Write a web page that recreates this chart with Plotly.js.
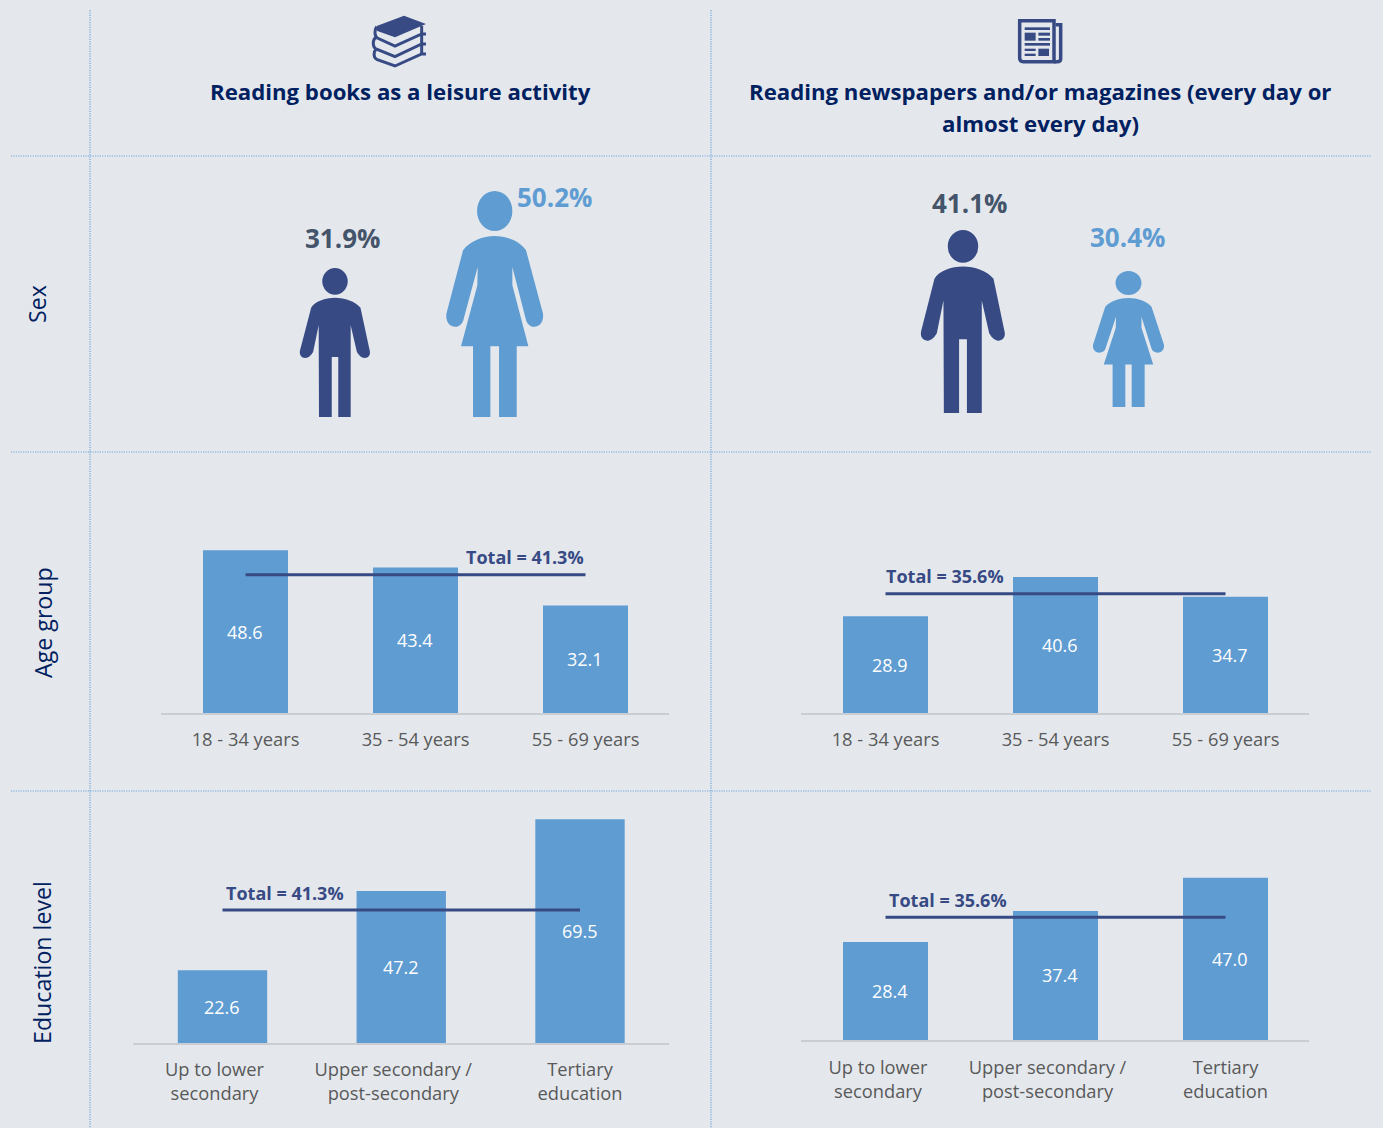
<!DOCTYPE html>
<html><head><meta charset="utf-8">
<script src="https://cdn.plot.ly/plotly-3.0.1.min.js"></script>
<style>html,body{margin:0;padding:0;background:#E4E8ED;overflow:hidden}</style>
</head><body><div id="chart" style="width:1383px;height:1128px"></div>
<script>
const headerBooks = 'Reading books as a leisure activity';
const headerNews = ['Reading newspapers and/or magazines (every day or','almost every day)'];
const rowTitles = ['Sex','Age group','Education level'];
const sexValues = [31.9, 50.2, 41.1, 30.4];
const ageCategories = ['18 - 34 years','35 - 54 years','55 - 69 years'];
const eduCategories = ['Up to lower<br>secondary','Upper secondary /<br>post-secondary','Tertiary<br>education'];
const ageBooks = [48.6, 43.4, 32.1];
const ageNews = [28.9, 40.6, 34.7];
const eduBooks = [22.6, 47.2, 69.5];
const eduNews = [28.4, 37.4, 47.0];
const totalBooks = 41.3;
const totalNews = 35.6;

const W=1383,H=1128;
const BG='#E4E8ED',BAR='#5F9CD2',DARK='#374A84',NAVY='#002060',GREY='#595959',SLATE='#44546A',GRID='#6FA6DA';
const FONT='"Open Sans", sans-serif';
const px=x=>x/W, py=y=>1-y/H;

const panels=[
 {cats:ageCategories,vals:ageBooks,total:totalBooks,x:[161,669],c0:245.5,step:170,base:713,scale:3.35,lx:524.5,ly:557,labelShift:-0.5,tickShift:[0,0,0],standoff:10},
 {cats:ageCategories,vals:ageNews,total:totalNews,x:[801,1309],c0:885.5,step:170,base:713,scale:3.35,lx:945,ly:576,labelShift:4,tickShift:[0,0,0],standoff:10},
 {cats:eduCategories,vals:eduBooks,total:totalBooks,x:[133,669],c0:222.5,step:178.75,base:1043,scale:3.22,lx:285,ly:893,labelShift:-0.5,tickShift:[-8,-8,0],standoff:10},
 {cats:eduCategories,vals:eduNews,total:totalNews,x:[801,1309],c0:885.5,step:170,base:1040,scale:3.45,lx:947.5,ly:900,labelShift:4,tickShift:[-7.5,-8,0],standoff:11}
];
const traces=[], shapes=[], annotations=[];
const layout={width:W,height:H,margin:{l:0,r:0,t:0,b:0},paper_bgcolor:BG,plot_bgcolor:'rgba(0,0,0,0)',showlegend:false,font:{family:FONT,color:GREY}};

panels.forEach((p,i)=>{
  const n=i+1, xa='x'+n, ya='y'+n;
  const top=p.base-80*p.scale;
  const idx=p.vals.map((_,k)=>k);
  traces.push({type:'bar',x:idx,y:p.vals,xaxis:xa,yaxis:ya,marker:{color:BAR,line:{width:0}},hoverinfo:'skip',width:0.5});
  traces.push({type:'scatter',mode:'lines',x:[0,2],y:[p.total,p.total],xaxis:xa,yaxis:ya,line:{color:DARK,width:3},hoverinfo:'skip'});
  layout['xaxis'+n]={domain:[px(p.x[0]),px(p.x[1])],anchor:ya,type:'linear',
    range:[(p.x[0]-p.c0)/p.step,(p.x[1]-p.c0)/p.step],
    tickmode:'array',tickvals:idx.map(k=>k+p.tickShift[k]/p.step),ticktext:p.cats,
    showgrid:false,zeroline:false,showline:true,linecolor:'#CACDD2',linewidth:1.5,ticks:'',
    tickfont:{family:FONT,size:18.3,color:GREY},ticklabelstandoff:p.standoff,automargin:false,tickangle:0};
  layout['yaxis'+n]={domain:[py(p.base),py(top)],anchor:xa,range:[0,80],visible:false,fixedrange:true};
  p.vals.forEach((v,k)=>{
    annotations.push({xref:xa,yref:ya,x:k,y:v/2,xshift:p.labelShift,yshift:0,text:v.toFixed(1),showarrow:false,xanchor:'center',yanchor:'middle',
      font:{family:FONT,size:18,color:'#FFFFFF'}});
  });
  annotations.push({xref:'paper',yref:'paper',x:px(p.lx),y:py(p.ly),text:'<b>Total = '+p.total.toFixed(1)+'%</b>',showarrow:false,
    xanchor:'center',yanchor:'middle',font:{family:FONT,size:18,color:DARK}});
});

// dotted grid
[[90,10,90,1128],[711,10,711,1128],[11,156,1371,156],[11,452,1371,452],[11,791,1371,791]].forEach(l=>{
  shapes.push({type:'line',xref:'paper',yref:'paper',x0:px(l[0]),y0:py(l[1]),x1:px(l[2]),y1:py(l[3]),line:{color:GRID,width:1.2,dash:'1.2px,1.2px'}});
});

// headers and row titles
function header(text,x,y){
  annotations.push({xref:'paper',yref:'paper',x:px(x),y:py(y),text:'<b>'+text+'</b>',showarrow:false,xanchor:'center',yanchor:'middle',font:{family:FONT,size:22.2,color:NAVY}});
}
header(headerBooks,400,91.5);
header(headerNews[0],1040,91.5);
header(headerNews[1],1040,123.5);
[[37.5,304.5],[42.5,622.5],[42,963]].forEach((c,i)=>{
  annotations.push({xref:'paper',yref:'paper',x:px(c[0]),y:py(c[1]),text:rowTitles[i],showarrow:false,textangle:-90,xanchor:'center',yanchor:'middle',font:{family:FONT,size:23.2,color:NAVY}});
});

// pictograms
function pathFrom(cmds,ox,oy,s,sx){
  const fx=sx===undefined?s:sx;
  return cmds.map(c=>{
    const k=c[0], a=c.slice(1), out=[];
    for(let i=0;i<a.length;i+=2){ out.push(px(ox+a[i]*fx)); out.push(py(oy+a[i+1]*s)); }
    return k+out.join(' ');
  }).join(' ');
}
const manBody=[['M',0,89],['C',-30,89,-62,100,-73,119],['L',-107,247],['C',-113,270,-85,283,-67,252],['L',-50,172],['L',-49,447],['L',-10,447],['L',-10,267],['L',10,267],['L',10,447],['L',48,447],['L',48,172],['L',67,252],['C',85,283,113,270,106,247],['L',78,119],['C',62,100,30,89,0,89],['Z']];
const womanBody=[['M',0,135],['C',-35,135,-75,150,-95,178],['L',-145,368],['C',-150,415,-100,420,-93,383],['L',-51,228],['L',-52,283],['L',-101,466],['L',-65,466],['L',-65,678],['L',-13,678],['L',-13,466],['L',13,466],['L',13,678],['L',66,678],['L',66,466],['L',101,466],['L',53,283],['L',53,228],['L',93,383],['C',100,420,150,415,145,368],['L',94,178],['C',75,150,35,135,0,135],['Z']];
function person(kind,cx,feet,h,widen,color){
  const unit=kind==='man'?447:678, s=h/unit, sx=s*widen, oy=feet-h;
  shapes.push({type:'path',xref:'paper',yref:'paper',path:pathFrom(kind==='man'?manBody:womanBody,cx,oy,s,sx),fillcolor:color,line:{width:0}});
  const hc=kind==='man'?{y:40,rx:39,ry:40}:{y:60,rx:53,ry:60};
  shapes.push({type:'circle',xref:'paper',yref:'paper',x0:px(cx-hc.rx*sx),x1:px(cx+hc.rx*sx),y0:py(oy+(hc.y+hc.ry)*s),y1:py(oy+(hc.y-hc.ry)*s),fillcolor:color,line:{width:0}});
}
person('man',335,417,149,0.98,DARK);
person('woman',494.7,417,226,1,BAR);
person('man',963,413,183,0.955,DARK);
person('woman',1128.5,407,136,1.22,BAR);
[[342,238,SLATE],[554.5,197,BAR],[969.5,203,SLATE],[1127.5,237,BAR]].forEach((c,i)=>{
  annotations.push({xref:'paper',yref:'paper',x:px(c[0]),y:py(c[1]),text:'<b>'+sexValues[i].toFixed(1)+'%</b>',showarrow:false,xanchor:'center',yanchor:'middle',font:{family:FONT,size:26,color:c[2]}});
});

// header icons, coordinates in 3x crop pixels
function icon(cmds,ox,oy,fill,stroke,w){
  shapes.push({type:'path',xref:'paper',yref:'paper',path:pathFrom(cmds,ox,oy,1/3),fillcolor:fill,line:stroke?{color:stroke,width:w}:{width:0}});
}
const NONE='rgba(0,0,0,0)';
icon([['M',110,78],['L',192,47],['L',258,72],['L',165,112],['L',110,92],['Z']],340,0,DARK);
[
 [['M',110,80],['C',103,90,103,108,112,114],['L',165,138],['L',245,102],['L',258,102]],
 [['M',245,78],['L',245,102]],
 [['M',108,112],['C',97,120,97,140,108,147],['L',165,170],['L',245,132],['L',258,132]],
 [['M',245,104],['L',245,132]],
 [['M',108,148],['C',100,155,100,172,110,178],['L',165,198],['L',245,162],['L',258,162]],
 [['M',245,134],['L',245,162]]
].forEach(c=>icon(c,340,0,NONE,DARK,3));
const rects=[[104,82,180,90],[104,98,137,122],[145,98,180,107],[145,114,180,122],[104,129,180,137],[104,146,137,153],[104,161,137,168],[145,146,177,168]];
icon([['M',89,62],['L',192,62],['L',192,185],['L',100,185],['C',93,185,89,181,89,174],['Z']],990,0,NONE,DARK,3.5);
icon([['M',197,74],['L',212,74],['L',212,176],['C',212,182,208,185,202,185],['L',192,185]],990,0,NONE,DARK,3.5);
rects.forEach(r=>icon([['M',r[0],r[1]],['L',r[2],r[1]],['L',r[2],r[3]],['L',r[0],r[3]],['Z']],990,0,DARK));

layout.shapes=shapes; layout.annotations=annotations;
Plotly.newPlot('chart',traces,layout,{displayModeBar:false,staticPlot:true});
</script></body></html>
